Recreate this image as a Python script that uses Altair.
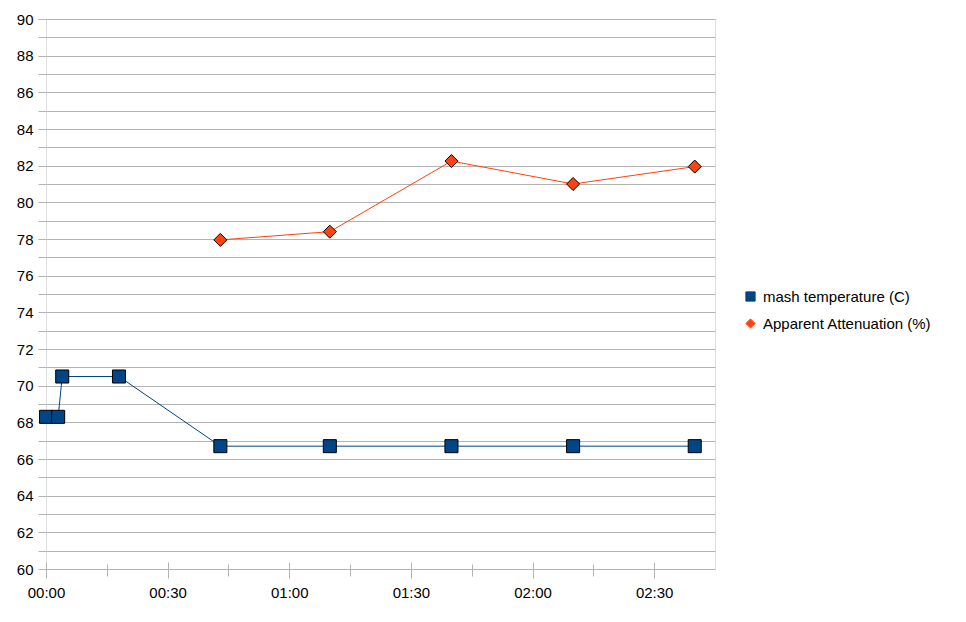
import altair as alt
import pandas as pd

FONT = "Liberation Sans"
FS = 15
GRID = "#b3b3b3"

series_names = ["mash temperature (C)", "Apparent Attenuation (%)"]
series_colors = ["#004586", "#ff420e"]
series_shapes = ["square", "diamond"]
marker_edges = ["#000000", "#000000"]

mash_minutes = [0, 3, 4, 18, 43, 70, 100, 130, 160]
mash_temp = [68.3, 68.3, 70.5, 70.5, 66.7, 66.7, 66.7, 66.7, 66.7]

att_minutes = [43, 70, 100, 130, 160]
att_values = [77.95, 78.4, 82.25, 81.0, 81.95]

major_ticks = [0, 30, 60, 90, 120, 150]
minor_ticks = [15, 45, 75, 105, 135]
y_ticks = list(range(60, 91))

rows = []
for m, v in zip(mash_minutes, mash_temp):
    rows.append({"series": series_names[0], "minutes": m, "value": v})
for m, v in zip(att_minutes, att_values):
    rows.append({"series": series_names[1], "minutes": m, "value": v})
df = pd.DataFrame(rows)

xscale = alt.Scale(domain=[0, 165], nice=False, zero=False)
yscale = alt.Scale(domain=[60, 90], nice=False, zero=False)
cscale = alt.Scale(domain=series_names, range=series_colors)
sscale = alt.Scale(domain=series_names, range=series_shapes)
kscale = alt.Scale(domain=series_names, range=marker_edges)

yaxis = alt.Axis(
    values=y_ticks, format="d",
    labelExpr="datum.value % 2 == 0 ? datum.label : ''",
    grid=True, gridColor=GRID, gridWidth=1, tickColor=GRID, tickSize=8,
    domain=False, title=None, labelFont=FONT, labelFontSize=FS,
    labelColor="black", labelPadding=5, labelOverlap=False)

legend = alt.Legend(
    title=None, orient="none", legendX=697, legendY=270, padding=0,
    labelFont=FONT, labelFontSize=FS, labelColor="black", labelOffset=5,
    labelLimit=400, symbolSize=85, symbolStrokeWidth=1,
    rowPadding=11,
)

base = alt.Chart(df)

lines = base.mark_line(strokeWidth=1).encode(
    x=alt.X("minutes:Q", scale=xscale, axis=alt.Axis(
        values=major_ticks, labelExpr="utcFormat(datum.value*60000, '%H:%M')",
        ticks=False, domain=False, grid=False, title=None,
        labelFont=FONT, labelFontSize=FS, labelColor="black", labelPadding=16,
        labelOverlap=False, labelFlush=False, orient="bottom")),
    y=alt.Y("value:Q", scale=yscale, axis=yaxis),
    color=alt.Color("series:N", scale=cscale, legend=legend),
    detail="series:N",
)

points = base.mark_point(filled=True, size=170, strokeWidth=1, opacity=1).encode(
    x=alt.X("minutes:Q", scale=xscale, axis=alt.Axis(
        values=major_ticks, labels=False, tickSize=16, tickColor=GRID,
        offset=-7, domain=False, grid=False, title=None, orient="bottom")),
    y=alt.Y("value:Q", scale=yscale, axis=yaxis),
    fill=alt.Fill("series:N", scale=cscale, legend=legend),
    stroke=alt.Stroke("series:N", scale=kscale, legend=legend),
    shape=alt.Shape("series:N", scale=sscale, legend=legend),
)

minor = base.mark_point(opacity=0).encode(
    x=alt.X("minutes:Q", scale=xscale, axis=alt.Axis(
        values=minor_ticks, labels=False, tickSize=12, tickColor=GRID,
        offset=-5, domain=False, grid=False, title=None, orient="bottom")),
    y=alt.Y("value:Q", scale=yscale, axis=yaxis),
)

chart = alt.layer(lines, minor, points).resolve_axis(x="independent").properties(
    width=669, height=550,
    autosize=alt.AutoSizeParams(type="none"),
    padding={"left": 38, "top": 11, "right": 243, "bottom": 45},
).configure_view(stroke=GRID, strokeWidth=1).configure(background="white")

chart.save("out.html", embed_options={"renderer": "svg", "actions": False})
